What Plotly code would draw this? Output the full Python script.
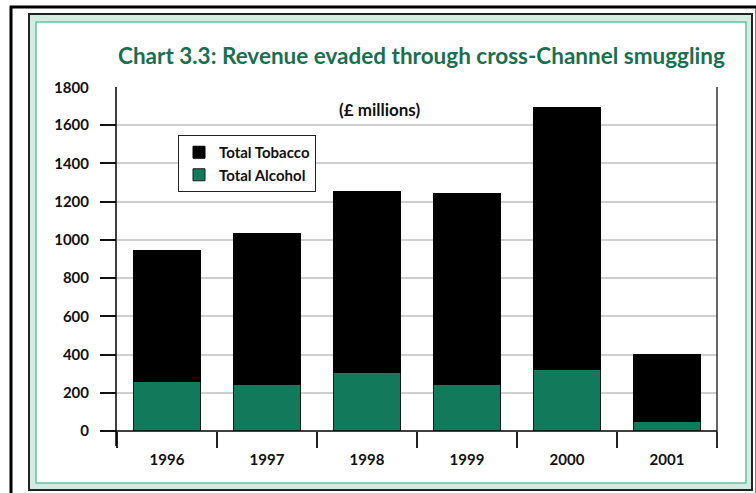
import plotly.graph_objects as go

years = ["1996", "1997", "1998", "1999", "2000", "2001"]
alcohol = [259, 243, 305, 243, 321, 48]
tobacco = [684, 793, 946, 998, 1372, 352]
y_ticks = [0, 200, 400, 600, 800, 1000, 1200, 1400, 1600]
y_tick_text = ["0", "200", "400", "600", "800", "1000", "1200", "1400", "1600"]
y_top_label = "1800"
title_text = "Chart 3.3: Revenue evaded through cross-Channel smuggling"
unit_text = "(£ millions)"

W, H = 756, 493
L, R, T, B = 117, 39, 87, 62
PW, PH = W - L - R, H - T - B

def px(x):
    return (x - L) / PW

def py(y):
    return (H - B - y) / PH

FONT = "Lato"
GREEN = "#127a5b"

fig = go.Figure()
fig.add_trace(go.Bar(x=years, y=alcohol, name="Total Alcohol",
                     marker=dict(color=GREEN, line=dict(color="#1a1a1a", width=1))))
fig.add_trace(go.Bar(x=years, y=tobacco, name="Total Tobacco",
                     marker=dict(color="#000000", line=dict(color="#000000", width=1))))

shapes = [
    dict(type="rect", xref="paper", yref="paper", x0=px(11), x1=px(757), y0=py(7), y1=py(498),
         line=dict(color="#000000", width=3), fillcolor="rgba(0,0,0,0)", layer="below"),
    dict(type="rect", xref="paper", yref="paper", x0=px(29), x1=px(752), y0=py(14), y1=py(490),
         line=dict(color="#222222", width=2), fillcolor="#d3ebe1", layer="below"),
    dict(type="rect", xref="paper", yref="paper", x0=px(36), x1=px(746), y0=py(22), y1=py(483),
         line=dict(color="#6cc0a3", width=1.5), fillcolor="#ffffff", layer="below"),
    dict(type="line", xref="paper", yref="paper", x0=px(116), x1=px(116), y0=py(446), y1=py(87),
         line=dict(color="#000000", width=1.5)),
    dict(type="line", xref="paper", yref="paper", x0=px(717), x1=px(717), y0=py(447), y1=py(87),
         line=dict(color="#333333", width=1.5)),
    dict(type="line", xref="paper", yref="paper", x0=px(116), x1=px(717), y0=0, y1=0,
         line=dict(color="#000000", width=1.5)),
]

annotations = [
    dict(text=title_text, xref="paper", yref="paper", x=px(116), y=py(55),
         xanchor="left", yanchor="middle", showarrow=False,
         font=dict(family=FONT, size=22.5, color="#1c6e50", weight="bold")),
    dict(text=unit_text, xref="paper", yref="paper", x=px(379), y=py(109),
         xanchor="center", yanchor="middle", showarrow=False,
         font=dict(family=FONT, size=17, color="#111111", weight="bold")),
    dict(text=y_top_label, xref="paper", y=1800, yref="y", x=px(91),
         xanchor="right", yanchor="middle", showarrow=False,
         font=dict(family=FONT, size=15, color="#111111", weight="bold")),
]

fig.update_layout(
    width=W, height=H,
    margin=dict(l=L, r=R, t=T, b=B, pad=0),
    barmode="stack", bargap=0.33,
    paper_bgcolor="#ffffff", plot_bgcolor="rgba(0,0,0,0)",
    showlegend=True,
    legend=dict(x=px(178), y=py(135), xanchor="left", yanchor="top",
                traceorder="reversed", bgcolor="#ffffff",
                bordercolor="#222222", borderwidth=1,
                font=dict(family=FONT, size=15, color="#111111", weight="bold"),
                itemwidth=30, tracegroupgap=0),
    shapes=shapes, annotations=annotations,
    xaxis=dict(type="category", showline=False, ticks="outside", tickson="boundaries",
               ticklen=16, tickwidth=1.5, tickcolor="#222222", showgrid=False,
               ticklabelstandoff=18,
               tickfont=dict(family=FONT, size=15, color="#111111", weight="bold")),
    yaxis=dict(range=[0, 1800], tickvals=y_ticks, ticktext=y_tick_text,
               ticks="outside", ticklen=16, tickwidth=1.5, tickcolor="#111111",
               showgrid=True, gridcolor="#d0d0d0", gridwidth=1.5, zeroline=False,
               showline=False, ticklabelstandoff=8,
               tickfont=dict(family=FONT, size=15, color="#111111", weight="bold")),
)

fig.write_html("out.html", config={"displayModeBar": False},
               post_script="document.body.style.margin='0';")
